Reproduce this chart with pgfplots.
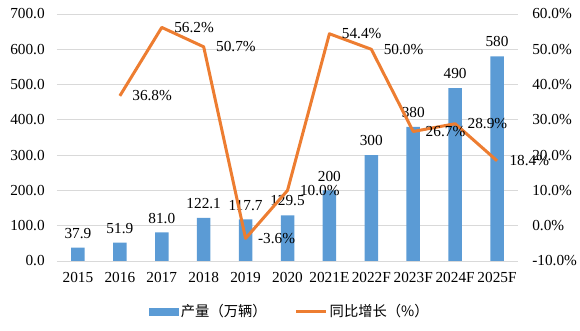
\documentclass[border=0pt]{standalone}
\usepackage{pgfplots}
\pgfplotsset{compat=1.18}
\usepackage{fontspec}
\setmainfont{Liberation Serif}
\newfontfamily\cjk{Noto Sans CJK SC}
\definecolor{barblue}{HTML}{5B9BD5}
\definecolor{lineorange}{HTML}{ED7D31}
\definecolor{gridgray}{HTML}{D9D9D9}
\begin{document}
\fontsize{15.3bp}{18bp}\selectfont
\begin{tikzpicture}
\useasboundingbox (0,0) rectangle (580bp,331bp);
\begin{axis}[
  at={(57bp,70bp)}, anchor=south west,
  scale only axis, width=461bp, height=247bp,
  xmin=-0.5, xmax=10.5, ymin=0, ymax=700,
  xtick={0,...,10},
  xticklabels={2015,2016,2017,2018,2019,2020,2021E,2022F,2023F,2024F,2025F},
  ytick={0,100,...,700},
  yticklabel={\pgfmathprintnumber[fixed,fixed zerofill,precision=1]{\tick}},
  ymajorgrids, grid style={gridgray, line width=0.8bp},
  axis line style={draw=none}, major tick length=0pt,
  tick label style={font=\fontsize{15.3bp}{18bp}\selectfont},
  yticklabel style={xshift=-7bp},
  xticklabel style={yshift=-6bp},
  /pgf/number format/assume math mode=true,
  legend style={at={(0.505,-0.206)}, anchor=center, draw=none, fill=none,
    legend columns=2, font=\cjk\fontsize{14.3bp}{17bp}\selectfont,
    /tikz/every even column/.append style={column sep=26bp},
    cells={anchor=west}},
]
\addplot[ybar, bar width=13.5bp, fill=barblue, draw=none,
  point meta=explicit symbolic, nodes near coords,
  nodes near coords style={anchor=south, inner sep=2bp, yshift=7bp, text=black,
    font=\fontsize{15.3bp}{18bp}\selectfont},
  legend image code/.code={\fill[barblue] (0bp,-4bp) rectangle (30bp,4bp);}]
  table[meta=label] {
x y label
0 37.9 37.9
1 51.9 51.9
2 81.0 81.0
3 122.1 122.1
4 117.7 117.7
5 129.5 129.5
6 200 200
7 300 300
8 380 380
9 490 490
10 580 580
};
\addlegendentry{产量（万辆）}
\addlegendimage{legend image code/.code={\draw[lineorange, line width=3bp] (0bp,0bp) -- (30bp,0bp);}}
\addlegendentry{同比增长（\%）}
\end{axis}
\begin{axis}[
  at={(57bp,70bp)}, anchor=south west,
  scale only axis, width=461bp, height=247bp,
  xmin=-0.5, xmax=10.5, ymin=-10, ymax=60,
  axis x line=none, axis y line*=right,
  ytick={-10,0,...,60},
  yticklabel={\pgfmathprintnumber[fixed,fixed zerofill,precision=1]{\tick}\%},
  axis line style={draw=none}, major tick length=0pt,
  tick label style={font=\fontsize{15.3bp}{18bp}\selectfont},
  yticklabel style={xshift=9bp},
  /pgf/number format/assume math mode=true,
]
\addplot[lineorange, line width=3bp, mark=none, line join=round,
  point meta=y,
  nodes near coords={\pgfmathprintnumber[fixed,fixed zerofill,precision=1]{\pgfplotspointmeta}\%},
  nodes near coords style={anchor=west, inner sep=2bp, xshift=9bp, yshift=0bp, text=black,
    font=\fontsize{15.3bp}{18bp}\selectfont}]
  coordinates {(1,36.8) (2,56.2) (3,50.7) (4,-3.6) (5,10.0) (6,54.4) (7,50.0) (8,26.7) (9,28.9) (10,18.4)};
\end{axis}
\end{tikzpicture}
\end{document}
